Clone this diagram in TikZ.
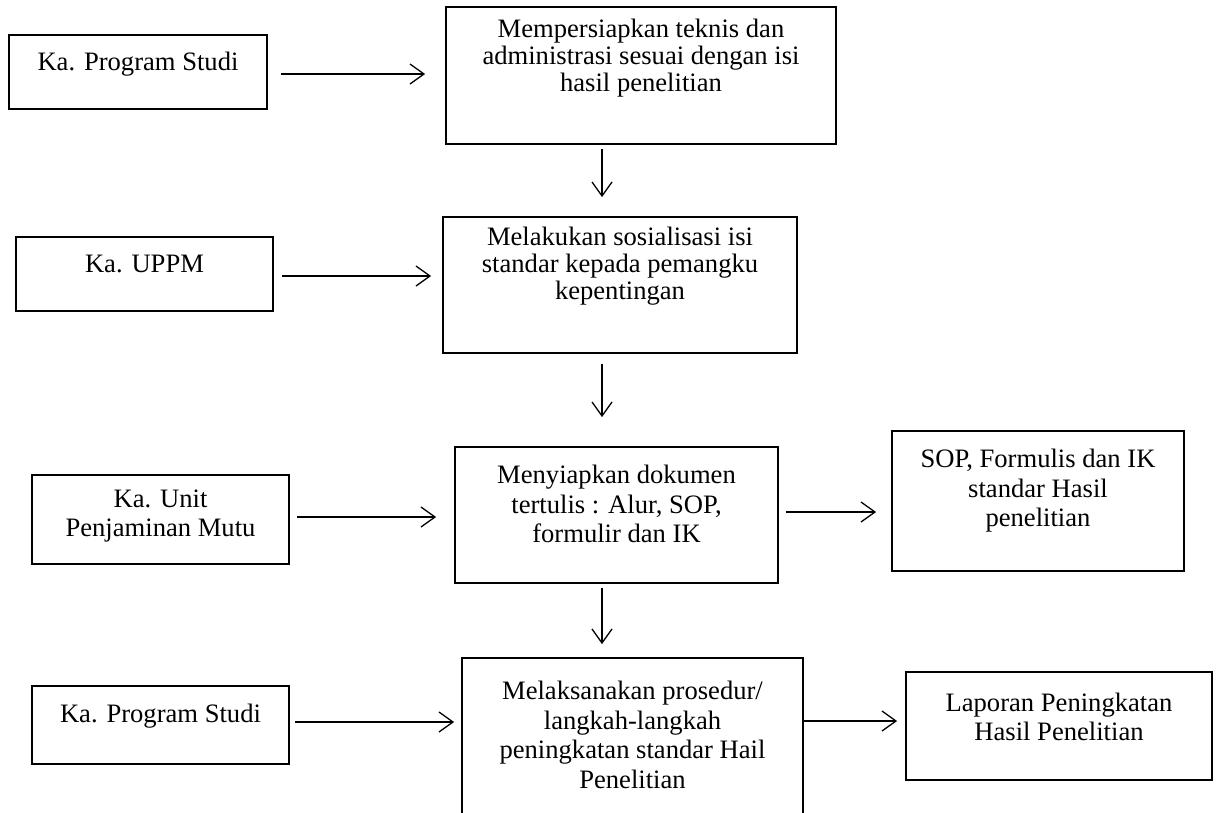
\documentclass[tikz,border=0pt]{standalone}
\usepackage{fontspec}
\setmainfont{Liberation Serif}
\usetikzlibrary{arrows.meta}
\begin{document}
\begin{tikzpicture}[x=1pt,y=-1pt,
  box/.style={draw=black,line width=1.8pt,inner sep=0pt},
  txt/.style={align=center,inner sep=0pt,font=\fontsize{26.6}{29.5}\selectfont},
  tighttxt/.style={txt,font=\fontsize{26.6}{27}\selectfont},
  arr/.style={line width=1.3pt,-{Straight Barb[length=14pt,width=20pt,line width=1.3pt]}}]
\useasboundingbox (0,0) rectangle (1219,812);
\clip (0,0) rectangle (1219,812);
\fill[white] (0,0) rectangle (1219,812);
% boxes
\node[box,minimum width=258pt,minimum height=74pt] (a1) at (138,72) {};
\node[box,minimum width=390pt,minimum height=137pt] (b1) at (641,75.5) {};
\node[box,minimum width=257pt,minimum height=74pt] (a2) at (144.5,274) {};
\node[box,minimum width=354pt,minimum height=136pt] (b2) at (620,285) {};
\node[box,minimum width=257pt,minimum height=89pt] (a3) at (160.5,519.5) {};
\node[box,minimum width=323pt,minimum height=136pt] (b3) at (616.5,515) {};
\node[box,minimum width=292pt,minimum height=140pt] (c3) at (1038,501) {};
\node[box,minimum width=257pt,minimum height=78pt] (a4) at (160.5,725) {};
\node[box,minimum width=341pt,minimum height=180pt] (b4) at (632.5,748) {};
\node[box,minimum width=306pt,minimum height=108pt] (c4) at (1059,726) {};
% texts
\node[txt] (ta1) at (138,64) {Ka. Program Studi};
\node[tighttxt] (tb1) at (641,58) {Mempersiapkan teknis dan\\administrasi sesuai dengan isi\\hasil penelitian};
\node[txt] (ta2) at (144.5,264) {Ka. UPPM};
\node[tighttxt] (tb2) at (620,266) {Melakukan sosialisasi isi\\standar kepada pemangku\\kepentingan};
\node[txt] (ta3) at (160.5,516) {Ka. Unit\\Penjaminan Mutu};
\node[txt] (tb3) at (616.5,504) {Menyiapkan dokumen\\tertulis : Alur, SOP,\\formulir dan IK};
\node[txt] (tc3) at (1038,491) {SOP, Formulis dan IK\\standar Hasil\\penelitian};
\node[txt] (ta4) at (160.5,716) {Ka. Program Studi};
\node[txt] (tb4) at (632.5,735) {Melaksanakan prosedur/\\langkah-langkah\\peningkatan standar Hail\\Penelitian};
\node[txt] (tc4) at (1059,717) {Laporan Peningkatan\\Hasil Penelitian};
% arrow levels
\coordinate (r1) at (0,74);
\coordinate (r2) at (0,276);
\coordinate (r3) at (0,517);
\coordinate (r4) at (0,512);
\coordinate (r5) at (0,722);
\coordinate (r6) at (0,721);
\coordinate (dx) at (602,0);
% horizontal arrows
\draw[arr,shorten <=13pt,shorten >=20pt] (a1.east |- r1) -- (b1.west |- r1);
\draw[arr,shorten <=8pt,shorten >=11pt] (a2.east |- r2) -- (b2.west |- r2);
\draw[arr,shorten <=7pt,shorten >=18pt] (a3.east |- r3) -- (b3.west |- r3);
\draw[arr,shorten <=7pt,shorten >=15pt] (b3.east |- r4) -- (c3.west |- r4);
\draw[arr,shorten <=5pt,shorten >=7pt] (a4.east |- r5) -- (b4.west |- r5);
\draw[arr,shorten <=0pt,shorten >=8pt] (b4.east |- r6) -- (c4.west |- r6);
% vertical arrows
\draw[arr,shorten <=4pt,shorten >=19pt] (b1.south -| dx) -- (b2.north -| dx);
\draw[arr,shorten <=10pt,shorten >=29pt] (b2.south -| dx) -- (b3.north -| dx);
\draw[arr,shorten <=4pt,shorten >=13pt] (b3.south -| dx) -- (b4.north -| dx);
\end{tikzpicture}
\end{document}
